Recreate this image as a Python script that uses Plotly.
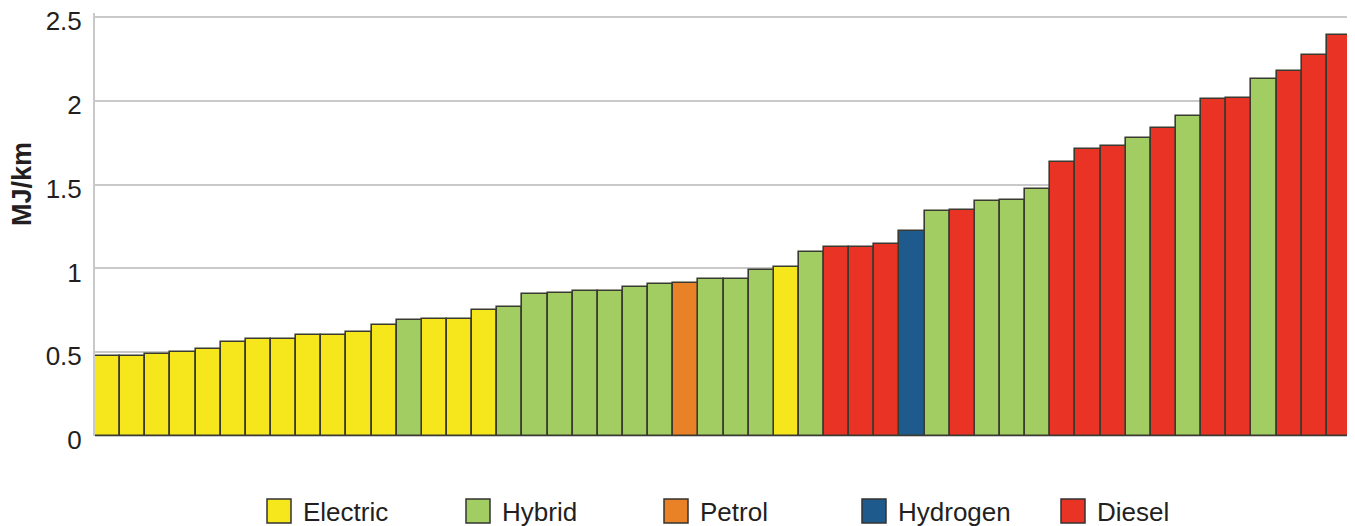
import plotly.graph_objects as go

# ---- data (sorted energy use per vehicle, MJ/km) ----
values = [0.48, 0.48, 0.49, 0.50, 0.52, 0.56, 0.58, 0.58, 0.60, 0.60,
          0.62, 0.66, 0.69, 0.70, 0.70, 0.75, 0.77, 0.845, 0.853, 0.865,
          0.865, 0.89, 0.905, 0.913, 0.937, 0.937, 0.99, 1.007, 1.096, 1.125,
          1.125, 1.145, 1.224, 1.345, 1.348, 1.403, 1.407, 1.473, 1.635, 1.711,
          1.73, 1.78, 1.835, 1.91, 2.012, 2.018, 2.13, 2.177, 2.276, 2.395]
types = ["Electric"] * 12 + ["Hybrid", "Electric", "Electric", "Electric"] + \
        ["Hybrid"] * 7 + ["Petrol", "Hybrid", "Hybrid", "Hybrid", "Electric", "Hybrid"] + \
        ["Diesel"] * 3 + ["Hydrogen", "Hybrid", "Diesel", "Hybrid", "Hybrid", "Hybrid"] + \
        ["Diesel"] * 3 + ["Hybrid", "Diesel", "Hybrid", "Diesel", "Diesel", "Hybrid"] + \
        ["Diesel"] * 3
categories = ["Electric", "Hybrid", "Petrol", "Hydrogen", "Diesel"]
colors = {"Electric": "#F6E71C", "Hybrid": "#A1CD62", "Petrol": "#E98226",
          "Hydrogen": "#1F5A8C", "Diesel": "#E93324"}
y_ticks = [0, 0.5, 1, 1.5, 2, 2.5]
y_tick_labels = ["0", "0.5", "1", "1.5", "2", "2.5"]

# the page adds an 8px body margin, so the figure is shifted by OFF
OFF = 8
W, H = 1355 - OFF, 526 - OFF
PLOT_LEFT, PLOT_RIGHT = 95 - OFF, 1352 - OFF
PLOT_BOTTOM = 436 - OFF
PX_PER_UNIT = (436 - 17) / 2.5
PH = 423
Y_MAX = PH / PX_PER_UNIT          # a little headroom so the 2.5 gridline is drawn
T = PLOT_BOTTOM - PH
L, R, B = PLOT_LEFT, W - PLOT_RIGHT, H - PLOT_BOTTOM
PW = PLOT_RIGHT - PLOT_LEFT


def px_to_paper_x(px):
    return (px - OFF - L) / PW


def px_to_paper_y(py):
    return (PLOT_BOTTOM - (py - OFF)) / PH


fig = go.Figure()
for cat in categories:
    xs = [i + 1 for i, t in enumerate(types) if t == cat]
    ys = [values[i] for i, t in enumerate(types) if t == cat]
    fig.add_trace(go.Bar(
        x=xs, y=ys, name=cat, width=1,
        marker=dict(color=colors[cat], line=dict(color="#3a3a30", width=1.6)),
        showlegend=False,
    ))

FONT = "Liberation Sans, Arial, sans-serif"

# custom legend (large swatches)
legend_px = [267, 466, 664, 862, 1061]
shapes = []
annotations = []
for cat, px in zip(categories, legend_px):
    shapes.append(dict(type="rect", xref="paper", yref="paper",
                       x0=px_to_paper_x(px), x1=px_to_paper_x(px + 24),
                       y0=px_to_paper_y(499), y1=px_to_paper_y(523),
                       fillcolor=colors[cat], line=dict(color="#333333", width=1.5)))
    annotations.append(dict(xref="paper", yref="paper",
                            x=px_to_paper_x(px + 34), y=px_to_paper_y(512),
                            xanchor="left", yanchor="middle", showarrow=False,
                            text=cat, font=dict(family=FONT, size=26, color="#231f20")))

# y-axis title
annotations.append(dict(xref="paper", yref="paper",
                        x=px_to_paper_x(22), y=px_to_paper_y(184),
                        xanchor="center", yanchor="middle", showarrow=False,
                        text="<b>MJ/km</b>", textangle=-90,
                        font=dict(family=FONT, size=27, color="#231f20")))

fig.update_layout(
    width=W, height=H,
    margin=dict(l=L, r=R, t=T, b=B, pad=0, autoexpand=False),
    paper_bgcolor="white", plot_bgcolor="white",
    barmode="overlay", bargap=0,
    shapes=shapes, annotations=annotations,
    font=dict(family=FONT, size=26, color="#231f20"),
)
fig.update_xaxes(range=[0.5, 50.5], showticklabels=False, showgrid=False,
                 zeroline=False, showline=False, fixedrange=True, automargin=False)
fig.update_yaxes(range=[0, Y_MAX], tickvals=y_ticks, ticktext=y_tick_labels,
                 showgrid=True, gridcolor="#c9c9c9", gridwidth=2,
                 zeroline=True, zerolinecolor="#c9c9c9", zerolinewidth=2,
                 showline=True, linecolor="#c9c9c9", linewidth=2,
                 ticks="", ticklabelstandoff=6, ticklabelshift=4,
                 ticklabeloverflow="allow", automargin=False,
                 tickfont=dict(family=FONT, size=26, color="#231f20"))

fig.write_html("out.html")
